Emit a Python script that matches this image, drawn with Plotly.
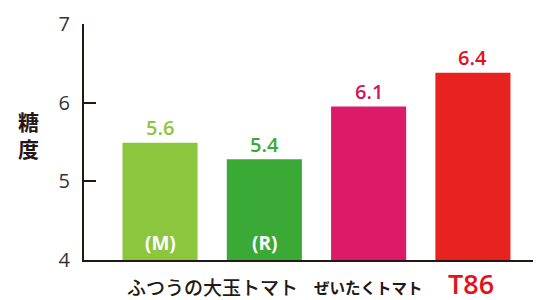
import plotly.graph_objects as go

# Data
categories = ["(M)", "(R)", "ぜいたくトマト", "T86"]
bar_heights = [5.49, 5.28, 5.95, 6.38]
value_labels = ["5.6", "5.4", "6.1", "6.4"]
y_ticks = [4, 5, 6, 7]

bar_colors = ["#8cc63f", "#3aa935", "#dc1a68", "#e8231f"]
label_colors = ["#8cc63f", "#3aa935", "#d4145a", "#e60f1a"]

x = list(range(len(categories)))

fig = go.Figure()
fig.add_trace(go.Bar(
    x=x, y=bar_heights, base=0, width=0.72,
    marker=dict(color=bar_colors, line=dict(width=0)),
    hoverinfo="skip",
))

ann = []
FONT = "Open Sans, Noto Sans CJK JP, sans-serif"
JFONT = "Noto Sans CJK JP, sans-serif"
for i, (h, lab, c) in enumerate(zip(bar_heights, value_labels, label_colors)):
    ann.append(dict(x=i, y=h, xref="x", yref="y", text=lab, showarrow=False,
                    yanchor="middle", yshift=15,
                    font=dict(family=FONT, size=20, color=c, weight=600)))
# inner labels
for i in (0, 1):
    ann.append(dict(x=i, y=4, xref="x", yref="y", text=categories[i],
                    showarrow=False, yanchor="middle", yshift=17,
                    font=dict(family=FONT, size=19, color="white", weight=700)))
# category labels
ann.append(dict(x=0.5, y=4, xref="x", yref="y", text="ふつうの大玉トマト", showarrow=False,
                yanchor="middle", yshift=-26,
                font=dict(family=JFONT, size=19, color="#231815", weight=500)))
ann.append(dict(x=2, y=4, xref="x", yref="y", text=categories[2], showarrow=False,
                yanchor="middle", yshift=-27,
                font=dict(family=JFONT, size=15.5, color="#231815", weight=600)))
ann.append(dict(x=2.98, y=4, xref="x", yref="y", text=categories[3], showarrow=False,
                yanchor="middle", yshift=-23, height=28, valign="middle",
                font=dict(family=FONT, size=27, color="#e60f1a", weight=600)))
# y title
ann.append(dict(x=-0.1225, y=5.59, xref="paper", yref="y", text="糖<br>度", showarrow=False,
                xanchor="center", yanchor="middle",
                font=dict(family=JFONT, size=21, color="#231815", weight=700)))

fig.update_layout(
    width=541, height=300,
    margin=dict(l=84, r=8, t=24, b=40),
    paper_bgcolor="white", plot_bgcolor="white",
    showlegend=False,
    annotations=ann,
    xaxis=dict(range=[-0.729, 3.576], showticklabels=False, ticks="",
               showgrid=False, zeroline=False,
               showline=True, linecolor="#231815", linewidth=2, fixedrange=True),
    yaxis=dict(range=[4, 7], tickvals=y_ticks, ticks="inside", ticklen=12, tickwidth=2,
               tickcolor="#231815", showgrid=False, zeroline=False,
               showline=True, linecolor="#231815", linewidth=2,
               ticklabelstandoff=8,
               tickfont=dict(family=FONT, size=20, color="#333333"), fixedrange=True),
)

fig.write_html("out.html", config={"displayModeBar": False},
               post_script="document.body.style.margin='0';document.body.style.padding='0';")
